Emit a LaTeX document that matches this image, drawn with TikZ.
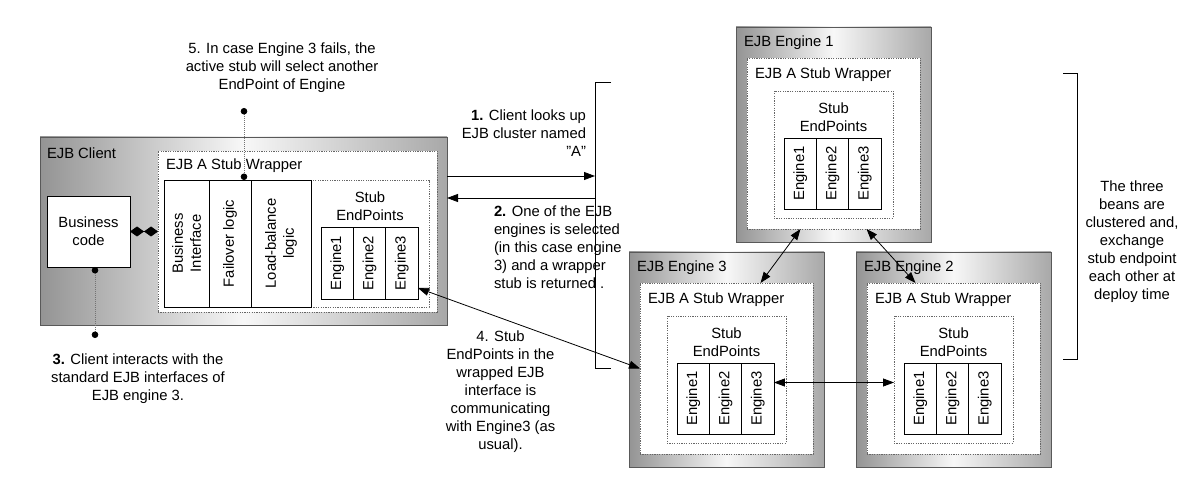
\documentclass[tikz,border=0pt]{standalone}
\usepackage{fontspec}
\setmainfont{Liberation Sans}
\usetikzlibrary{arrows.meta,calc}
\tikzset{
  every node/.style={font=\fontsize{14.8}{18}\selectfont, inner sep=0pt, outer sep=0pt},
  sz/.style 2 args={minimum width=#1pt, minimum height=#2pt},
  outerbox/.style={draw=black!65, line width=0.8pt, left color=black!42, right color=black!34, middle color=black!3},
  wrapbox/.style={draw=black!60, dash pattern=on 1.2pt off 1.2pt, line width=0.6pt, fill=white},
  cellbox/.style={draw=black, line width=0.8pt, fill=white},
  twoway/.style={{Triangle[length=11pt,width=8pt]}-{Triangle[length=11pt,width=8pt]}, line width=0.8pt},
  oneway/.style={-{Triangle[length=11pt,width=8pt]}, line width=0.8pt},
  dotline/.style={draw=black!55, dash pattern=on 1pt off 1pt, line width=0.8pt,
     {Circle[length=6.5pt,color=black]}-{Circle[length=6.5pt,color=black]}},
  rot/.style={rotate=90, align=center}
}
\newcommand\ejbengine[4]{%
  \node[outerbox, sz={195}{215}] (#1) at (#2+97.5,#3+107.5) {};
  \node[anchor=west] (#1lab) at (#2+8,#3+16) {EJB Engine #4};
  \node[wrapbox, sz={173}{171}] (#1w) at (#2+97.5,#3+116.5) {};
  \node[anchor=west] (#1wl) at (#2+19,#3+48) {EJB A Stub Wrapper};
  \node[wrapbox, sz={119}{127}] (#1s) at (#2+97.5,#3+127.5) {};
  \node[align=center] (#1sl) at (#2+97.5,#3+90) {Stub\\EndPoints};
  \node[cellbox, sz={32.3}{71}] (#1c1) at (#2+64.2,#3+146.5) {};
  \node[cellbox, sz={32.3}{71}] (#1c2) at (#2+96.5,#3+146.5) {};
  \node[cellbox, sz={32.3}{71}] (#1c3) at (#2+128.8,#3+146.5) {};
  \node[rot] (#1t1) at (#1c1) {Engine1};
  \node[rot] (#1t2) at (#1c2) {Engine2};
  \node[rot] (#1t3) at (#1c3) {Engine3};
}
\begin{document}
\begin{tikzpicture}[x=1pt,y=-1pt]
\useasboundingbox (0,0) rectangle (1197,489);

% ---------------- EJB Client
\node[outerbox, sz={407}{188}] (client) at (243.5,231) {};
\node[anchor=west] (clientlab) at (47,153) {EJB Client};
\node[wrapbox, sz={279}{161}] (cw) at (297.5,231.5) {};
\node[anchor=west] (cwl) at (166,166) {EJB A Stub Wrapper};
\node[wrapbox, sz={118}{127}] (cs) at (370,243.5) {};
\node[cellbox, sz={45}{127}] (bi) at (186.5,243.5) {};
\node[cellbox, sz={42}{127}] (fo) at (230,243.5) {};
\node[cellbox, sz={60}{127}] (lb) at (281,243.5) {};
\node[rot] (bit) at (bi) {Business\\Interface};
\node[rot] (fot) at (fo) {Failover logic};
\node[rot] (lbt) at (lb) {Load-balance\\logic};
\node[align=center] (csl) at (370,206) {Stub\\EndPoints};
\node[cellbox, sz={32.3}{72}] (cc1) at (337.2,263) {};
\node[cellbox, sz={32.3}{72}] (cc2) at (369.5,263) {};
\node[cellbox, sz={32.3}{72}] (cc3) at (401.8,263) {};
\node[rot] (cct1) at (cc1) {Engine1};
\node[rot] (cct2) at (cc2) {Engine2};
\node[rot] (cct3) at (cc3) {Engine3};
\node[cellbox, sz={83}{71}, align=center] (bcode) at (88.5,231.5) {Business\\code};
\draw[line width=0.8pt, {Diamond[length=14pt,width=10pt]}-{Diamond[length=14pt,width=10pt]}] (bcode.east) -- (cw.west);

% ---------------- Engines
\ejbengine{eA}{736}{27}{1}
\ejbengine{eC}{629}{252}{3}
\ejbengine{eB}{856}{252}{2}

% ---------------- bracket left
\coordinate (bt) at (611,82);
\coordinate (bb) at (611,368);
\draw[line width=0.8pt] (bt) -- (595,82) -- (595,368) -- (bb);
\coordinate (b1) at (595,176);
\coordinate (b2) at (595,198);
\draw[oneway] (client.east |- b1) -- (b1);
\draw[oneway] (b2) -- (client.east |- b2);

% ---------------- bracket right
\draw[line width=0.8pt] (1063,73) -- (1077,73) -- (1077,359) -- (1063,359);

% ---------------- connectors
\draw[twoway] ($(cc3.east)+(0,25)$) -- (eCw.west);
\draw[twoway] ($(eAw.south)+(-33,0)$) -- ($(eCw.north)+(34,0)$);
\draw[twoway] ($(eAw.south)+(33,0)$) -- ($(eBw.north)+(-38,0)$);
\draw[twoway] ($(eCc3.east)+(0,-16)$) -- (eBs.west |- {$(eCc3.east)+(0,-16)$});

% ---------------- notes
\node[align=center] (n5) at (282,68) {5. In case Engine 3 fails, the\\active stub will select another\\EndPoint of Engine};
\coordinate (d5) at (244,108);
\draw[dotline] (d5) -- ($(fo.north)+(14,0)$);

\node[align=right, anchor=east] (n1) at (586,133) {\textbf{1.} Client looks up\\EJB cluster named\\\symbol{34}A\symbol{34}};
\node[align=left, anchor=west] (n2) at (494,247) {\textbf{2.} One of the EJB\\engines is selected\\(in this case engine\\3) and a wrapper\\stub is returned .};
\node[align=center] (n4) at (500.5,391.5) {4. Stub\\EndPoints in the\\wrapped EJB\\interface is\\communicating\\with Engine3 (as\\usual).};
\node[align=center] (n3) at (138,378.5) {\textbf{3.} Client interacts with the\\standard EJB interfaces of\\EJB engine 3.};
\coordinate (d3) at (95,338);
\draw[dotline] ($(bcode.south)+(6.5,0)$) -- (d3);
\node[align=center] (nR) at (1132,241.5) {The three\\beans are\\clustered and,\\exchange\\stub endpoint\\each other at\\deploy time};
\end{tikzpicture}
\end{document}
